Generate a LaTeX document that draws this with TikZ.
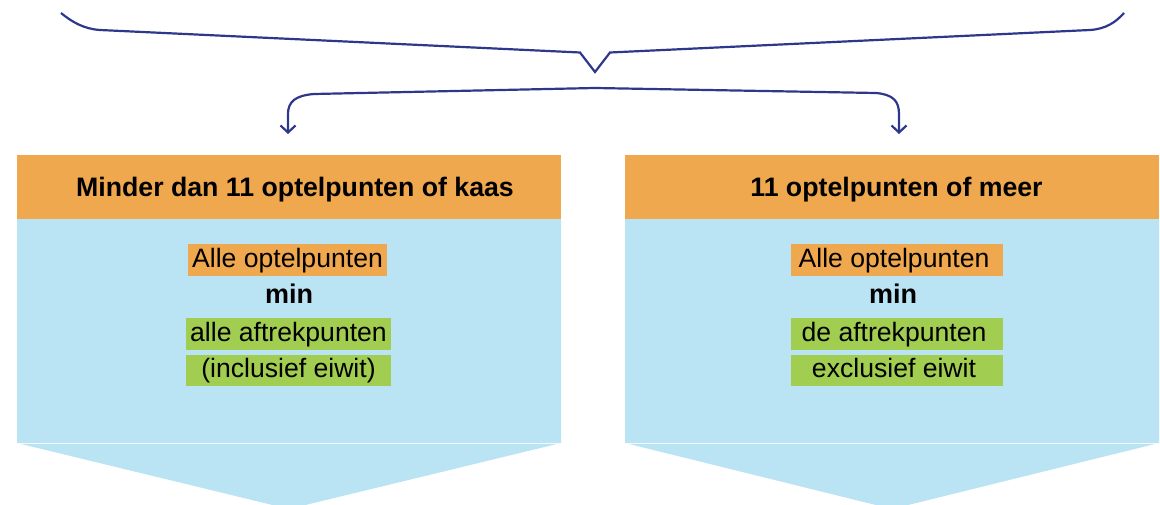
\documentclass[tikz,border=0pt]{standalone}
\usepackage{fontspec}
\setmainfont{Liberation Sans}
\usetikzlibrary{arrows.meta}
\definecolor{hdr}{RGB}{240,168,78}
\definecolor{bodyblue}{RGB}{186,227,243}
\definecolor{grn}{RGB}{161,205,80}
\definecolor{navy}{RGB}{45,56,140}
\begin{document}
\begin{tikzpicture}[x=1pt,y=-1pt,
  header/.style={fill=hdr, inner sep=0pt, minimum height=64pt, text height=19.6pt, text depth=0pt,
    font=\fontsize{26.7}{30}\selectfont\bfseries},
  lab/.style={inner sep=0pt, minimum height=32pt, text height=18.5pt, text depth=4pt,
    font=\fontsize{26.6}{30}\selectfont},
  orangelab/.style={lab, fill=hdr},
  greenlab/.style={lab, fill=grn},
  minlab/.style={anchor=base, inner sep=0pt, font=\fontsize{27}{30}\selectfont\bfseries},
  bracestyle/.style={draw=navy, line width=2.2pt, line join=miter},
  arrowstyle/.style={draw=navy, line width=2.2pt, -{Straight Barb[length=7pt,width=15pt,line width=2.2pt]}}
]
\useasboundingbox (0,0) rectangle (1160,505);

% bodies (chevrons)
\fill[bodyblue] (17,219) -- (561,219) -- (561,443) -- (289,509) -- (17,443) -- cycle;
\fill[bodyblue] (625,219) -- (1159,219) -- (1159,443) -- (892,509) -- (625,443) -- cycle;
\draw[white, line width=0.8pt, opacity=0.8] (17,443) -- (561,443);
\draw[white, line width=0.8pt, opacity=0.8] (625,443) -- (1159,443);

% headers
\node[header, minimum width=544pt] (h1) at (289,187) {\hspace*{12pt}Minder dan 11 optelpunten of kaas};
\node[header, minimum width=534pt] (h2) at (892,187) {\hspace*{9pt}11 optelpunten of meer};

% left content
\node[orangelab, minimum width=199pt] (l1) at (287.5,260) {Alle optelpunten};
\node[minlab] (lmin) at (289,304) {min};
\node[greenlab, minimum width=205pt] (l2) at (288.5,334) {alle aftrekpunten};
\node[greenlab, minimum width=205pt, minimum height=31pt] (l3) at (288.5,370.5) {(inclusief eiwit)};

% right content
\node[orangelab, minimum width=212pt] (r1) at (897,260) {\hspace*{-6pt}Alle optelpunten};
\node[minlab] (rmin) at (893,304) {min};
\node[greenlab, minimum width=212pt] (r2) at (897,334) {\hspace*{-6pt}de aftrekpunten};
\node[greenlab, minimum width=212pt, minimum height=31pt] (r3) at (897,370.5) {\hspace*{-6pt}exclusief eiwit};

% brace
\coordinate (bl) at (61,13);
\coordinate (br) at (1124,13);
\coordinate (btip) at (595,72);
\draw[bracestyle] (bl) .. controls (72,22) and (84,29) .. (100,30)
  -- (580,52.5) -- (btip) -- (610,52.5) -- (1090,30)
  .. controls (1106,29) and (1116,22) .. (br);

% split arrows
\coordinate (amid) at (595,88);
\coordinate (ltip) at (288,134);
\coordinate (rtip) at (899,134);
\draw[arrowstyle] (amid) -- (314,94) .. controls (295,95.5) and (288,102) .. (288,114) -- (ltip);
\draw[arrowstyle] (amid) -- (876,93) .. controls (893,94.5) and (899,101) .. (899,114) -- (rtip);
\end{tikzpicture}
\end{document}
